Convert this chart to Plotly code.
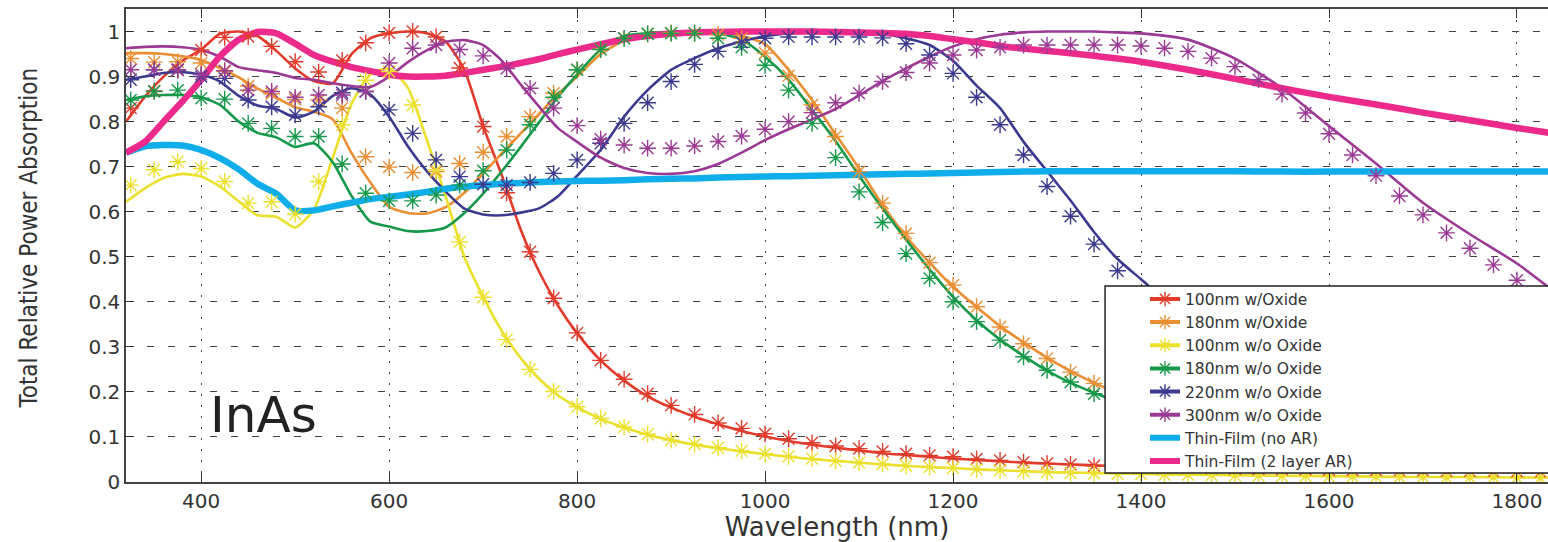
import plotly.graph_objects as go

# Wavelength grids (nm)
wl_sim = [325, 350, 375, 400, 425, 450, 475, 500, 525, 550, 575, 600, 625, 650, 675, 700,
          725, 750, 775, 800, 825, 850, 875, 900, 925, 950, 975, 1000, 1025, 1050, 1075,
          1100, 1125, 1150, 1175, 1200, 1225, 1250, 1275, 1300, 1325, 1350, 1375, 1400,
          1425, 1450, 1475, 1500, 1525, 1550, 1575, 1600, 1625, 1650, 1675, 1700, 1725,
          1750, 1775, 1800, 1825]
wl_meas = [320, 340, 360, 380, 400, 420, 440, 460, 480, 500, 520, 540, 560, 580, 600, 620,
           640, 660, 680, 700, 720, 740, 760, 780, 800, 825, 850, 875, 900, 925, 950, 975,
           1000, 1025, 1050, 1075, 1100, 1125, 1150, 1175, 1200, 1225, 1250, 1275, 1300,
           1325, 1350, 1375, 1400, 1450, 1500, 1550, 1600, 1650, 1700, 1750, 1800, 1835]

# Simulated points (asterisks)
sim_100_ox = [0.83, 0.868, 0.915, 0.959, 0.987, 0.989, 0.967, 0.933, 0.91, 0.936, 0.975, 0.997,
              1.0, 0.988, 0.919, 0.789, 0.642, 0.511, 0.408, 0.331, 0.27, 0.228, 0.196, 0.17,
              0.15, 0.131, 0.119, 0.107, 0.096, 0.087, 0.08, 0.074, 0.068, 0.063, 0.059, 0.056,
              0.051, 0.048, 0.044, 0.041, 0.039, 0.036, 0.035, 0.034, 0.033, 0.032, 0.031, 0.030,
              0.029, 0.028, 0.028, 0.027, 0.026, 0.026, 0.025, 0.025, 0.024, 0.024, 0.023, 0.023,
              0.022]
sim_180_ox = [0.94, 0.932, 0.933, 0.93, 0.911, 0.879, 0.862, 0.849, 0.848, 0.83, 0.722, 0.699,
              0.687, 0.689, 0.707, 0.732, 0.767, 0.811, 0.863, 0.915, 0.961, 0.985, 0.995, 0.997,
              0.997, 0.993, 0.985, 0.952, 0.902, 0.837, 0.767, 0.689, 0.619, 0.552, 0.487, 0.437,
              0.389, 0.344, 0.307, 0.274, 0.244, 0.219, 0.197, 0.178, 0.162, 0.148, 0.135, 0.124,
              0.114, 0.105, 0.097, 0.09, 0.084, 0.078, 0.073, 0.068, 0.064, 0.06, 0.056, 0.053,
              0.05]
sim_100_no = [0.659, 0.693, 0.711, 0.696, 0.667, 0.619, 0.622, 0.595, 0.667, 0.793, 0.892, 0.911,
              0.837, 0.693, 0.533, 0.41, 0.316, 0.25, 0.201, 0.167, 0.141, 0.122, 0.106, 0.093,
              0.084, 0.076, 0.069, 0.063, 0.057, 0.052, 0.047, 0.043, 0.04, 0.036, 0.033, 0.031,
              0.028, 0.026, 0.024, 0.022, 0.02, 0.019, 0.018, 0.017, 0.016, 0.016, 0.015, 0.014,
              0.014, 0.013, 0.013, 0.012, 0.012, 0.011, 0.011, 0.011, 0.01, 0.01, 0.01, 0.009,
              0.009]
sim_180_no = [0.848, 0.867, 0.87, 0.852, 0.85, 0.796, 0.785, 0.767, 0.767, 0.706, 0.641, 0.624,
              0.624, 0.637, 0.659, 0.691, 0.737, 0.793, 0.854, 0.915, 0.96, 0.985, 0.995, 0.996,
              0.996, 0.985, 0.965, 0.925, 0.87, 0.796, 0.72, 0.644, 0.576, 0.507, 0.452, 0.4,
              0.356, 0.315, 0.278, 0.248, 0.222, 0.196, 0.176, 0.16, 0.145, 0.132, 0.12, 0.11,
              0.101, 0.093, 0.086, 0.08, 0.074, 0.069, 0.064, 0.06, 0.056, 0.052, 0.049, 0.046,
              0.043]
sim_220_no = [0.893, 0.915, 0.915, 0.9, 0.896, 0.848, 0.833, 0.815, 0.833, 0.864, 0.867, 0.826,
              0.774, 0.715, 0.678, 0.661, 0.659, 0.665, 0.685, 0.715, 0.752, 0.796, 0.842, 0.889,
              0.927, 0.956, 0.976, 0.985, 0.988, 0.988, 0.988, 0.988, 0.986, 0.973, 0.948, 0.907,
              0.854, 0.793, 0.726, 0.656, 0.59, 0.528, 0.469, 0.415, 0.368, 0.326, 0.29, 0.258,
              0.23, 0.206, 0.185, 0.167, 0.151, 0.137, 0.125, 0.114, 0.104, 0.096, 0.088, 0.081,
              0.075]
sim_300_no = [0.915, 0.915, 0.915, 0.905, 0.913, 0.87, 0.867, 0.854, 0.859, 0.859, 0.867, 0.93,
              0.963, 0.97, 0.96, 0.946, 0.918, 0.874, 0.83, 0.791, 0.761, 0.748, 0.741, 0.741,
              0.746, 0.756, 0.768, 0.783, 0.8, 0.82, 0.842, 0.863, 0.889, 0.909, 0.93, 0.948,
              0.959, 0.965, 0.97, 0.97, 0.97, 0.97, 0.97, 0.968, 0.963, 0.956, 0.941, 0.922,
              0.893, 0.861, 0.819, 0.773, 0.726, 0.68, 0.635, 0.593, 0.553, 0.519, 0.482, 0.448,
              0.415]

# Measured curves (solid lines)
meas_100_ox = [0.80, 0.855, 0.90, 0.935, 0.96, 0.995, 1.0, 0.99, 0.957, 0.918, 0.89, 0.885,
               0.95, 0.985, 0.996, 1.0, 0.996, 0.978, 0.915, 0.79, 0.68, 0.56, 0.465, 0.39, 0.33,
               0.27, 0.225, 0.19, 0.165, 0.145, 0.128, 0.113, 0.101, 0.091, 0.083, 0.076, 0.07,
               0.064, 0.06, 0.056, 0.052, 0.049, 0.046, 0.043, 0.041, 0.039, 0.037, 0.035, 0.033,
               0.031, 0.029, 0.027, 0.026, 0.025, 0.024, 0.023, 0.022, 0.021]
meas_180_ox = [0.952, 0.952, 0.95, 0.945, 0.937, 0.919, 0.898, 0.873, 0.853, 0.832, 0.822, 0.805,
               0.73, 0.665, 0.611, 0.597, 0.596, 0.61, 0.642, 0.685, 0.73, 0.774, 0.818, 0.862,
               0.9, 0.95, 0.98, 0.995, 1.0, 1.0, 0.998, 0.99, 0.972, 0.915, 0.848, 0.772, 0.696,
               0.615, 0.545, 0.487, 0.433, 0.389, 0.346, 0.31, 0.276, 0.246, 0.22, 0.198, 0.18,
               0.15, 0.126, 0.107, 0.092, 0.08, 0.07, 0.062, 0.055, 0.051]
meas_100_no = [0.622, 0.652, 0.675, 0.684, 0.678, 0.656, 0.623, 0.592, 0.589, 0.565, 0.605, 0.72,
               0.84, 0.905, 0.918, 0.875, 0.76, 0.635, 0.50, 0.411, 0.335, 0.275, 0.228, 0.192,
               0.166, 0.14, 0.121, 0.105, 0.093, 0.083, 0.075, 0.068, 0.062, 0.056, 0.051, 0.047,
               0.043, 0.039, 0.036, 0.033, 0.031, 0.028, 0.026, 0.024, 0.022, 0.021, 0.02, 0.019,
               0.018, 0.016, 0.015, 0.014, 0.013, 0.012, 0.011, 0.011, 0.01, 0.01]
meas_180_no = [0.848, 0.856, 0.859, 0.859, 0.854, 0.837, 0.80, 0.775, 0.765, 0.744, 0.752, 0.71,
               0.635, 0.578, 0.567, 0.557, 0.557, 0.565, 0.597, 0.64, 0.69, 0.744, 0.80, 0.856,
               0.905, 0.96, 0.99, 0.996, 0.999, 0.999, 0.995, 0.982, 0.944, 0.893, 0.826, 0.757,
               0.68, 0.607, 0.538, 0.472, 0.411, 0.359, 0.316, 0.28, 0.247, 0.22, 0.198, 0.178,
               0.162, 0.135, 0.113, 0.096, 0.083, 0.072, 0.063, 0.056, 0.05, 0.047]
meas_220_no = [0.893, 0.90, 0.908, 0.91, 0.904, 0.889, 0.857, 0.836, 0.828, 0.809, 0.822, 0.857,
               0.874, 0.86, 0.811, 0.745, 0.69, 0.645, 0.607, 0.594, 0.592, 0.598, 0.608, 0.635,
               0.68, 0.737, 0.811, 0.87, 0.915, 0.941, 0.963, 0.978, 0.99, 0.996, 0.998, 0.998,
               0.997, 0.995, 0.985, 0.97, 0.935, 0.88, 0.83, 0.755, 0.69, 0.625, 0.555, 0.495,
               0.45, 0.36, 0.29, 0.235, 0.19, 0.155, 0.13, 0.11, 0.095, 0.085]
meas_300_no = [0.963, 0.966, 0.967, 0.965, 0.959, 0.944, 0.921, 0.914, 0.908, 0.897, 0.893, 0.885,
               0.879, 0.877, 0.90, 0.932, 0.958, 0.977, 0.981, 0.97, 0.935, 0.882, 0.832, 0.785,
               0.755, 0.72, 0.697, 0.686, 0.684, 0.69, 0.706, 0.731, 0.759, 0.783, 0.805, 0.828,
               0.858, 0.89, 0.918, 0.944, 0.967, 0.983, 0.993, 0.998, 1.0, 1.0, 1.0, 0.998, 0.996,
               0.982, 0.94, 0.874, 0.79, 0.707, 0.62, 0.55, 0.485, 0.43]
thin_no_ar = [0.731, 0.745, 0.748, 0.747, 0.737, 0.719, 0.694, 0.662, 0.64, 0.603, 0.603, 0.612,
              0.62, 0.628, 0.633, 0.638, 0.644, 0.651, 0.656, 0.659, 0.662, 0.664, 0.666, 0.667,
              0.668, 0.669, 0.67, 0.672, 0.673, 0.674, 0.676, 0.677, 0.678, 0.679, 0.68, 0.681,
              0.682, 0.683, 0.684, 0.685, 0.686, 0.687, 0.688, 0.689, 0.69, 0.69, 0.69, 0.69,
              0.69, 0.69, 0.69, 0.689, 0.689, 0.689, 0.689, 0.689, 0.689, 0.689]
thin_2ar = [0.731, 0.755, 0.80, 0.845, 0.893, 0.945, 0.982, 0.999, 0.996, 0.973, 0.948, 0.933,
            0.921, 0.912, 0.904, 0.90, 0.90, 0.902, 0.908, 0.915, 0.922, 0.93, 0.939, 0.95,
            0.96, 0.972, 0.983, 0.99, 0.995, 0.998, 0.999, 1.0, 1.0, 1.0, 1.0, 0.999, 0.998,
            0.997, 0.995, 0.99, 0.983, 0.976, 0.968, 0.962, 0.957, 0.952, 0.946, 0.94, 0.933,
            0.915, 0.895, 0.874, 0.855, 0.838, 0.82, 0.803, 0.786, 0.775]

series = [
    ("100nm w/Oxide", "#e23b2c", sim_100_ox, meas_100_ox),
    ("180nm w/Oxide", "#ea8f34", sim_180_ox, meas_180_ox),
    ("100nm w/o Oxide", "#ebe02c", sim_100_no, meas_100_no),
    ("180nm w/o Oxide", "#16994a", sim_180_no, meas_180_no),
    ("220nm w/o Oxide", "#3b3a8f", sim_220_no, meas_220_no),
    ("300nm w/o Oxide", "#9b3a94", sim_300_no, meas_300_no),
]
films = [
    ("Thin-Film (no AR)", "#10adeb", thin_no_ar),
    ("Thin-Film (2 layer AR)", "#ec2a8c", thin_2ar),
]

fig = go.Figure()

# measured curves
for name, color, _, meas in series:
    fig.add_trace(go.Scatter(x=wl_meas, y=meas, mode="lines",
                             line=dict(color=color, width=2.6, shape="spline", smoothing=0.6),
                             showlegend=False, hoverinfo="skip"))
# thin-film reference curves
for name, color, vals in films:
    fig.add_trace(go.Scatter(x=wl_meas, y=vals, mode="lines",
                             line=dict(color=color, width=6.5, shape="spline", smoothing=0.6),
                             showlegend=False, hoverinfo="skip"))
# simulated points
for name, color, sim, _ in series:
    fig.add_trace(go.Scatter(x=wl_sim, y=sim, mode="markers",
                             marker=dict(symbol="asterisk-open", size=14, color=color,
                                         line=dict(color=color, width=1.4)),
                             showlegend=False, hoverinfo="skip"))

# legend entries
for name, color, _, _ in series:
    fig.add_trace(go.Scatter(x=[None], y=[None], mode="lines+markers", name=name,
                             line=dict(color=color, width=4),
                             marker=dict(symbol="asterisk-open", size=12, color=color,
                                         line=dict(color=color, width=1.4))))
for name, color, _ in films:
    fig.add_trace(go.Scatter(x=[None], y=[None], mode="lines", name=name,
                             line=dict(color=color, width=6)))

tick_font = dict(family="DejaVu Sans", size=20, color="#333333")

fig.update_layout(
    width=1548, height=542,
    margin=dict(l=126, r=0, t=9, b=60, autoexpand=False),
    paper_bgcolor="white", plot_bgcolor="white",
    font=dict(family="DejaVu Sans", color="#333333"),
    legend=dict(x=0.7166, y=0.422, xanchor="left", yanchor="top",
                bgcolor="rgba(0,0,0,0)", borderwidth=0,
                font=dict(family="DejaVu Sans", size=15.5, color="#333333"),
                traceorder="normal", tracegroupgap=0, itemwidth=30),
    xaxis=dict(range=[320, 1833], tickvals=[400, 600, 800, 1000, 1200, 1400, 1600, 1800],
               ticks="inside", ticklen=9, tickcolor="#333333", tickfont=tick_font,
               showline=True, linecolor="#444444", linewidth=1.5, mirror="ticks",
               showgrid=True, gridcolor="#444444", gridwidth=1, griddash="2px,9px",
               zeroline=False,
               title=dict(text="Wavelength (nm)",
                          font=dict(family="DejaVu Sans", size=26, color="#333333"), standoff=6)),
    yaxis=dict(range=[0, 1.05], tickvals=[0, 0.1, 0.2, 0.3, 0.4, 0.5, 0.6, 0.7, 0.8, 0.9, 1],
               ticks="inside", ticklen=8, tickcolor="#333333", tickfont=tick_font,
               showline=True, linecolor="#444444", linewidth=1.5, mirror=False,
               showgrid=True, gridcolor="#444444", gridwidth=1, griddash="7px,14px",
               zeroline=False),
    # framed white panel behind the legend entries
    shapes=[dict(type="rect", xref="paper", yref="paper", x0=0.6885, x1=1.02, y0=0.019, y1=0.4144,
                 layer="above", fillcolor="white", line=dict(color="#222222", width=1.5))],
    annotations=[
        dict(text="Total Relative Power Absorption", xref="paper", yref="paper",
             x=-0.0682, y=0.515, xanchor="center", yanchor="middle", textangle=-90, showarrow=False,
             font=dict(family="Liberation Sans Narrow, DejaVu Sans Condensed, sans-serif",
                       size=24, color="#333333")),
        dict(text="InAs", xref="x", yref="y", x=407, y=0.148, xanchor="left", yanchor="middle",
             showarrow=False, font=dict(family="DejaVu Sans", size=50, color="#222222")),
    ],
)

fig.write_html("out.html")
